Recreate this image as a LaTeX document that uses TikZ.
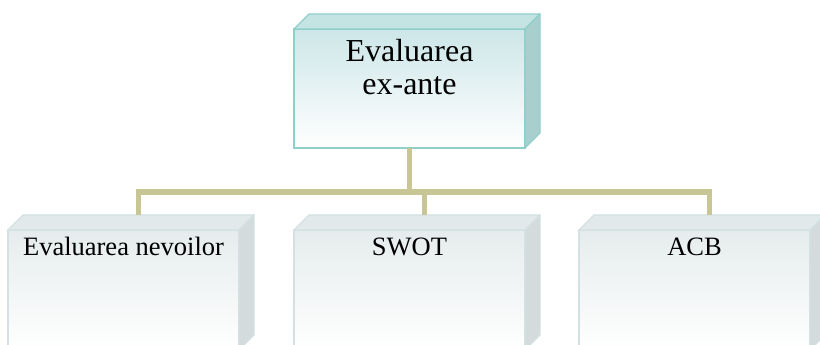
\documentclass[tikz,border=0pt]{standalone}
\usepackage{fontspec}
\setmainfont{Liberation Serif}
\usetikzlibrary{calc}
\definecolor{topfront}{HTML}{CDE6E8}
\definecolor{topedge}{HTML}{8FCFCB}
\definecolor{toptopface}{HTML}{C4E4E4}
\definecolor{topside}{HTML}{A9CECE}
\definecolor{botfront}{HTML}{E6ECED}
\definecolor{botedge}{HTML}{D3E1E2}
\definecolor{bottopface}{HTML}{E2E9EA}
\definecolor{botside}{HTML}{D3DBDC}
\definecolor{connc}{HTML}{C9C696}
\tikzset{
  topbox/.style={draw=topedge, line width=1.3pt, top color=topfront, bottom color=white,
    minimum width=231pt, minimum height=119pt, inner sep=0pt, outer sep=0pt},
  botbox/.style={draw=botedge, line width=1.3pt, top color=botfront, bottom color=white,
    minimum width=231pt, minimum height=120pt, inner sep=0pt, outer sep=0pt},
  conn/.style={draw=connc, line width=5.5pt, line join=miter},
  toptext/.style={font=\fontsize{32}{33}\selectfont, align=center, inner sep=0pt},
  bottext/.style={font=\fontsize{26.5}{28}\selectfont, inner sep=0pt, anchor=base},
}
\begin{document}
\begin{tikzpicture}[x=1pt,y=1pt]
\useasboundingbox (0,0) rectangle (820,345);
% top box
\node[topbox] (top) at (409.5,256.5) {};
\fill[toptopface, draw=topedge, line width=1.3pt, line join=round]
  (top.north west) -- ++(15,15) -- ($(top.north east)+(15,15)$) -- (top.north east) -- cycle;
\fill[topside, draw=topedge, line width=1.3pt, line join=round]
  (top.north east) -- ++(15,15) -- ($(top.south east)+(15,15)$) -- (top.south east) -- cycle;
\node[toptext, anchor=north] (toptxt) at (409.5,306) {Evaluarea\\ex-ante};
% bottom boxes
\foreach \n/\cx in {b1/123.5, b2/409.5, b3/694.5}{
  \node[botbox] (\n) at (\cx,55) {};
  \fill[bottopface, draw=botedge, line width=1.3pt, line join=round]
    (\n.north west) -- ++(15,15) -- ($(\n.north east)+(15,15)$) -- (\n.north east) -- cycle;
  \fill[botside, draw=botedge, line width=1.3pt, line join=round]
    (\n.north east) -- ++(15,15) -- ($(\n.south east)+(15,15)$) -- (\n.south east) -- cycle;
  \coordinate (\n top) at ($(\n.north)+(15,15)$);
}
\node[bottext] (b1txt) at (123.5,89) {Evaluarea nevoilor};
\node[bottext] (b2txt) at (409.5,89) {SWOT};
\node[bottext] (b3txt) at (694.5,89) {ACB};
% connectors
\coordinate (bar) at (409.5,153);
\draw[conn] (top.south) -- (top.south |- bar);
\draw[conn] (b1top) -- (b1top |- bar) -- (b3top |- bar) -- (b3top);
\draw[conn] (b2top) -- (b2top |- bar);
\end{tikzpicture}
\end{document}
